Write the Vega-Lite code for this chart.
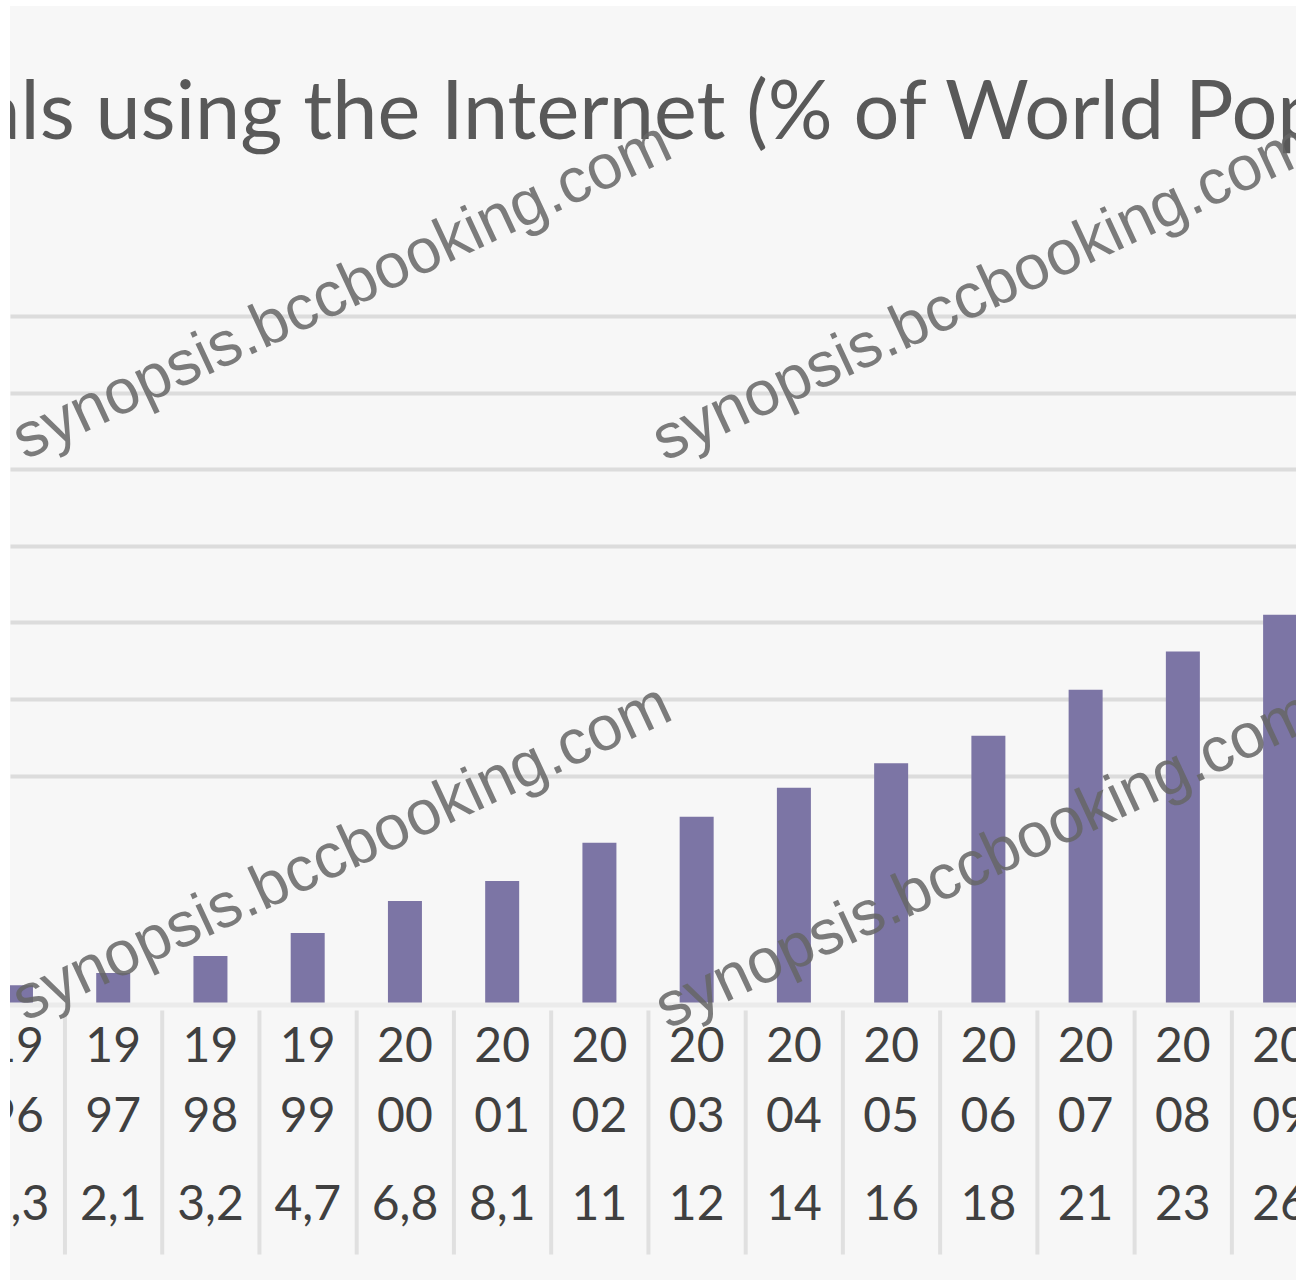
{
  "$schema": "https://vega.github.io/schema/vega-lite/v6.json",
  "width": 1286,
  "height": 1274,
  "autosize": {"type": "none"},
  "padding": {"left": 10, "top": 6, "right": 0, "bottom": 0},
  "background": "#ffffff",
  "config": {"view": {"fill": "#f7f7f7", "stroke": null}},
  "datasets": {
    "net": [
      {"year": 1996, "value": 1.3, "label": "1,3", "c": "19", "yy": "96"},
      {"year": 1997, "value": 2.1, "label": "2,1", "c": "19", "yy": "97"},
      {"year": 1998, "value": 3.2, "label": "3,2", "c": "19", "yy": "98"},
      {"year": 1999, "value": 4.7, "label": "4,7", "c": "19", "yy": "99"},
      {"year": 2000, "value": 6.8, "label": "6,8", "c": "20", "yy": "00"},
      {"year": 2001, "value": 8.1, "label": "8,1", "c": "20", "yy": "01"},
      {"year": 2002, "value": 10.6, "label": "11", "c": "20", "yy": "02"},
      {"year": 2003, "value": 12.3, "label": "12", "c": "20", "yy": "03"},
      {"year": 2004, "value": 14.2, "label": "14", "c": "20", "yy": "04"},
      {"year": 2005, "value": 15.8, "label": "16", "c": "20", "yy": "05"},
      {"year": 2006, "value": 17.6, "label": "18", "c": "20", "yy": "06"},
      {"year": 2007, "value": 20.6, "label": "21", "c": "20", "yy": "07"},
      {"year": 2008, "value": 23.1, "label": "23", "c": "20", "yy": "08"},
      {"year": 2009, "value": 25.5, "label": "26", "c": "20", "yy": "09"}
    ],
    "wm": [
      {"t": "synopsis.bccbooking.com", "x": 1996.09, "y": 35.6},
      {"t": "synopsis.bccbooking.com", "x": 2002.67, "y": 35.5},
      {"t": "synopsis.bccbooking.com", "x": 1996.09, "y": -1.1},
      {"t": "synopsis.bccbooking.com", "x": 2002.7, "y": -1.6}
    ]
  },
  "layer": [
    {
      "data": {"name": "net"},
      "mark": {"type": "bar", "orient": "vertical", "width": 34, "color": "#7c75a5", "clip": true},
      "encoding": {
        "x": {"field": "year", "type": "quantitative", "scale": {"domain": [1995.99, 2009.112], "nice": false, "zero": false}, "axis": null},
        "y": {"field": "value", "type": "quantitative", "scale": {"domain": [-17.97, 65.29], "nice": false, "zero": false},
              "axis": {"values": [15, 20, 25, 30, 35, 40, 45], "grid": true, "gridColor": "#dcdcdc", "gridWidth": 4, "domain": false, "ticks": false, "tickSize": 0, "labels": false, "labelPadding": 0, "title": null, "minExtent": 0, "maxExtent": 0, "offset": 0}},
        "y2": {"datum": 0}
      }
    },
    {
      "data": {"values": [{}]},
      "mark": {"type": "rule", "color": "#ebebeb", "strokeWidth": 5},
      "encoding": {
        "y": {"datum": 0, "type": "quantitative", "scale": {"domain": [-17.97, 65.29], "nice": false, "zero": false}}
      }
    },
    {
      "data": {"name": "net"},
      "mark": {"type": "rule", "color": "#e0e0e0", "strokeWidth": 4, "xOffset": 49, "clip": true},
      "encoding": {
        "x": {"field": "year", "type": "quantitative", "scale": {"domain": [1995.99, 2009.112], "nice": false, "zero": false}},
        "y": {"datum": -0.35, "type": "quantitative", "scale": {"domain": [-17.97, 65.29], "nice": false, "zero": false}},
        "y2": {"datum": -16.3}
      }
    },
    {
      "data": {"name": "net"},
      "mark": {"type": "text", "font": "Lato", "fontSize": 48, "color": "#404040", "align": "center", "baseline": "middle", "clip": true},
      "encoding": {
        "x": {"field": "year", "type": "quantitative", "scale": {"domain": [1995.99, 2009.112], "nice": false, "zero": false}},
        "y": {"datum": -2.81, "type": "quantitative", "scale": {"domain": [-17.97, 65.29], "nice": false, "zero": false}},
        "text": {"field": "c"}
      }
    },
    {
      "data": {"name": "net"},
      "mark": {"type": "text", "font": "Lato", "fontSize": 48, "color": "#404040", "align": "center", "baseline": "middle", "clip": true},
      "encoding": {
        "x": {"field": "year", "type": "quantitative", "scale": {"domain": [1995.99, 2009.112], "nice": false, "zero": false}},
        "y": {"datum": -7.39, "type": "quantitative", "scale": {"domain": [-17.97, 65.29], "nice": false, "zero": false}},
        "text": {"field": "yy"}
      }
    },
    {
      "data": {"name": "net"},
      "mark": {"type": "text", "font": "Lato", "fontSize": 48, "color": "#404040", "align": "center", "baseline": "middle", "clip": true},
      "encoding": {
        "x": {"field": "year", "type": "quantitative", "scale": {"domain": [1995.99, 2009.112], "nice": false, "zero": false}},
        "y": {"datum": -13.14, "type": "quantitative", "scale": {"domain": [-17.97, 65.29], "nice": false, "zero": false}},
        "text": {"field": "label"}
      }
    },
    {
      "data": {"values": [{"title": "Individuals using the Internet (% of World Population)"}]},
      "mark": {"type": "text", "font": "Lato", "fontSize": 81, "color": "#595959", "align": "left", "baseline": "alphabetic", "clip": true},
      "encoding": {
        "x": {"datum": 1992.714, "type": "quantitative", "scale": {"domain": [1995.99, 2009.112], "nice": false, "zero": false}},
        "y": {"datum": 56.6, "type": "quantitative", "scale": {"domain": [-17.97, 65.29], "nice": false, "zero": false}},
        "text": {"field": "title"}
      }
    },
    {
      "data": {"name": "wm"},
      "mark": {"type": "text", "font": "Liberation Sans", "fontSize": 63, "color": "#666666", "opacity": 0.85, "angle": -25, "align": "left", "baseline": "alphabetic", "clip": true},
      "encoding": {
        "x": {"field": "x", "type": "quantitative", "scale": {"domain": [1995.99, 2009.112], "nice": false, "zero": false}},
        "y": {"field": "y", "type": "quantitative", "scale": {"domain": [-17.97, 65.29], "nice": false, "zero": false}},
        "text": {"field": "t"}
      }
    }
  ]
}
